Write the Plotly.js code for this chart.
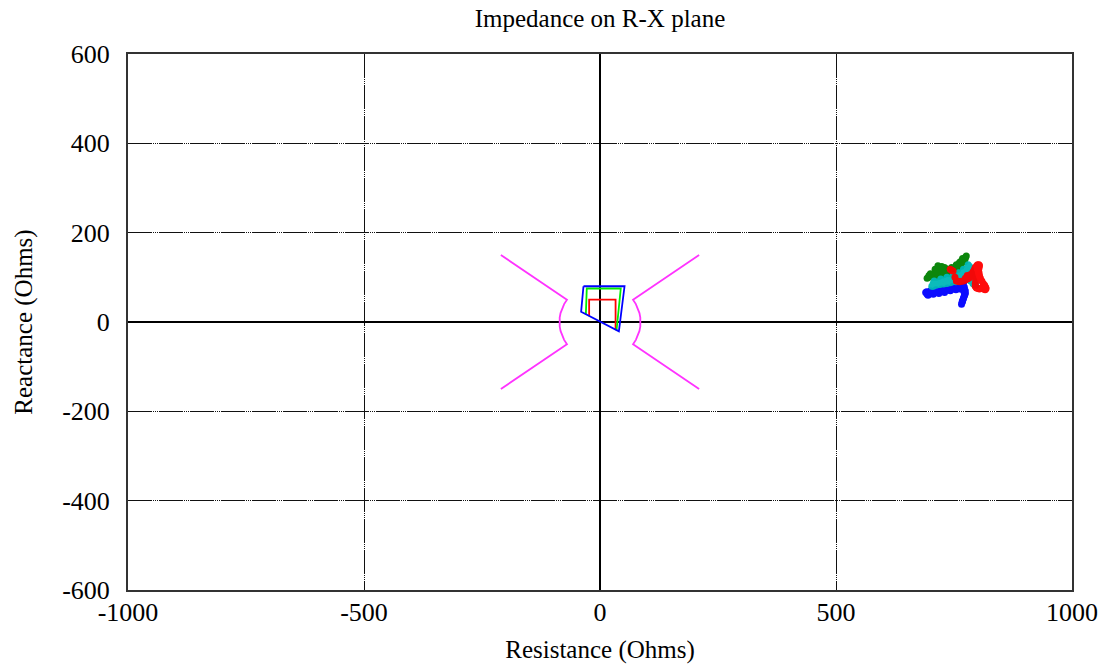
<!DOCTYPE html>
<html>
<head>
<meta charset="utf-8">
<script src="https://cdn.plot.ly/plotly-3.0.1.min.js"></script>
<style>html,body{margin:0;padding:0;background:#fff;}#chart{width:1102px;height:664px;}</style>
</head>
<body>
<div id="chart"></div>
<script>
// Magenta load-encroachment characteristic (left and right halves)
const magLeftX = [-210, -70, -76, -80.6, -83.6, -85.4, -86, -85.4, -83.6, -80.6, -76, -70, -210];
const magLeftY = [150, 50, 40, 30, 20, 10, 0, -10, -20, -30, -40, -50, -150];
const magRightX = [210, 70, 76, 80.6, 83.6, 85.4, 86, 85.4, 83.6, 80.6, 76, 70, 210];
const magRightY = [150, 50, 40, 30, 20, 10, 0, -10, -20, -30, -40, -50, -150];

// Zone characteristics
const zone1X = [-23, -23, 33, 33];
const zone1Y = [13, 50, 50, -18];
const zone2X = [-30, -28, 44, 35];
const zone2Y = [17, 75, 75, -19];
const zone3X = [-35, 52, 40, -40, -35];
const zone3Y = [80, 80, -21, 23, 80];

// Impedance trajectories
const greenR = [693, 697, 700, 703, 705, 709, 712, 715, 718, 720, 722, 725, 728, 732, 735, 738, 740, 743, 745, 748, 750, 752, 755, 757, 758, 760, 762, 764, 765, 767, 768, 770, 772, 774, 776, 773, 770, 765, 760, 755, 750, 744, 738, 732, 725, 718, 712, 706, 700, 696, 710, 716, 724, 730, 736, 744];
const greenX = [98, 104, 108, 102, 100, 108, 112, 106, 104, 112, 116, 110, 106, 114, 118, 112, 108, 116, 122, 116, 112, 120, 128, 122, 118, 126, 134, 130, 125, 134, 142, 138, 135, 142, 148, 144, 140, 136, 130, 126, 120, 116, 112, 108, 105, 102, 100, 102, 104, 100, 118, 126, 124, 122, 118, 110];
const blueR = [690, 693, 695, 698, 700, 703, 706, 709, 712, 715, 718, 721, 724, 727, 730, 733, 736, 739, 742, 745, 748, 751, 754, 757, 760, 763, 766, 768, 770, 772, 774, 773, 772, 770, 768, 767, 766, 768, 770, 772, 774, 770, 762, 755, 748, 740, 730, 720, 712, 704, 698, 692];
const blueX = [66, 62, 60, 66, 70, 66, 62, 68, 72, 68, 64, 70, 74, 70, 66, 72, 76, 72, 70, 76, 80, 76, 72, 78, 82, 80, 76, 82, 86, 78, 70, 64, 60, 54, 48, 44, 40, 46, 52, 58, 64, 70, 74, 76, 74, 72, 70, 68, 66, 64, 64, 68];
const cyanR = [703, 706, 708, 712, 715, 718, 722, 725, 728, 732, 735, 738, 742, 745, 748, 752, 755, 758, 760, 763, 765, 768, 770, 773, 775, 778, 780, 783, 785, 787, 788, 790, 792, 794, 796, 793, 790, 785, 780, 775, 770, 765, 760, 754, 748, 742, 735, 728, 720, 712, 706];
const cyanX = [80, 86, 92, 88, 84, 90, 96, 92, 88, 94, 100, 96, 92, 98, 104, 100, 96, 104, 110, 106, 102, 110, 118, 114, 110, 120, 128, 124, 118, 110, 104, 98, 92, 86, 82, 84, 86, 92, 96, 98, 96, 94, 92, 90, 90, 88, 86, 85, 84, 82, 80];
const redR = [742, 745, 748, 752, 755, 758, 762, 766, 770, 774, 778, 781, 784, 787, 790, 793, 795, 798, 800, 803, 804, 803, 802, 800, 798, 797, 796, 795, 795, 797, 798, 801, 804, 807, 810, 813, 816, 818, 817, 815, 812, 809, 806, 804, 803, 801, 800, 795, 790, 784, 778, 774];
const redX = [118, 116, 114, 100, 92, 91, 90, 91, 92, 94, 96, 98, 100, 106, 112, 117, 122, 126, 128, 128, 126, 121, 116, 110, 104, 98, 92, 86, 80, 78, 76, 75, 74, 75, 76, 74, 72, 75, 78, 82, 86, 92, 98, 104, 110, 115, 120, 114, 108, 106, 104, 98];

const xTicks = [-1000, -500, 0, 500, 1000];
const yTicks = [-600, -400, -200, 0, 200, 400, 600];

const FONT = '"Liberation Serif", "Times New Roman", serif';

function lineTrace(x, y, color, w) {
  return {x: x, y: y, type: 'scatter', mode: 'lines', line: {color: color, width: w || 1.8}, hoverinfo: 'skip', showlegend: false};
}
function trajTrace(x, y, color) {
  return {x: x, y: y, type: 'scatter', mode: 'lines+markers', line: {color: color, width: 2},
    marker: {color: color, size: 7}, opacity: 0.95, hoverinfo: 'skip', showlegend: false};
}

const data = [
  lineTrace(magLeftX, magLeftY, '#ff33ff'),
  lineTrace(magRightX, magRightY, '#ff33ff'),
  lineTrace(zone1X, zone1Y, '#ff0000'),
  lineTrace(zone2X, zone2Y, '#00ee00'),
  lineTrace(zone3X, zone3Y, '#0000ff'),
  trajTrace(greenR, greenX, '#008000'),
  trajTrace(blueR, blueX, '#0000ff'),
  trajTrace(cyanR, cyanX, '#00b8b8'),
  trajTrace(redR, redX, '#ff0000')
];

const gridDash = '24px,1px,1px,1px,1px,1px,1px,1px';
const layout = {
  width: 1102, height: 664,
  margin: {l: 128, r: 30, t: 54, b: 74},
  paper_bgcolor: '#fff', plot_bgcolor: '#fff',
  font: {family: FONT, size: 25, color: '#000'},
  title: {text: 'Impedance on R-X plane', font: {family: FONT, size: 25, color: '#000'},
    x: 0.5, xref: 'paper', xanchor: 'center', y: 0.972, yref: 'container', yanchor: 'middle'},
  xaxis: {
    range: [-1000, 1000], tickvals: xTicks, ticktext: xTicks.map(String),
    showgrid: true, gridcolor: '#111', gridwidth: 1, griddash: gridDash,
    zeroline: true, zerolinecolor: '#000', zerolinewidth: 1.5,
    showline: true, linecolor: '#333', linewidth: 2, mirror: true,
    ticks: '', ticklabelstandoff: -2,
    tickfont: {family: FONT, size: 26, color: '#000'},
    title: {text: 'Resistance (Ohms)', font: {family: FONT, size: 25, color: '#000'}, standoff: 16},
    fixedrange: true
  },
  yaxis: {
    range: [-600, 600], tickvals: yTicks, ticktext: yTicks.map(String),
    showgrid: true, gridcolor: '#111', gridwidth: 1, griddash: gridDash,
    zeroline: true, zerolinecolor: '#000', zerolinewidth: 1.5,
    showline: true, linecolor: '#333', linewidth: 2, mirror: true,
    ticks: '', ticklabelstandoff: 11,
    tickfont: {family: FONT, size: 26, color: '#000'},
    title: {text: 'Reactance (Ohms)', font: {family: FONT, size: 25, color: '#000'}, standoff: 22},
    fixedrange: true
  }
};

Plotly.newPlot('chart', data, layout, {staticPlot: true, displayModeBar: false});
</script>
</body>
</html>
